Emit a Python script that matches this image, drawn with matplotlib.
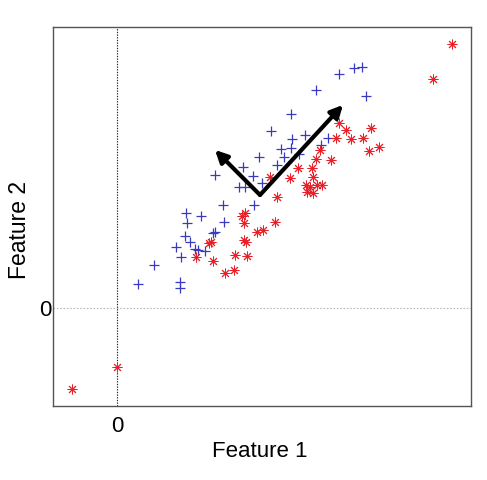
import matplotlib
matplotlib.use("Agg")
import matplotlib.pyplot as plt

plt.rcParams["font.family"] = ["Liberation Sans", "DejaVu Sans"]

# class 1 (blue plus)
blue_x = [2.22, 2.37, 2.45, 1.99, 2.49, 1.74, 1.54, 1.75, 1.88, 2.11, 2.04, 1.64, 1.74, 1.67,
          1.82, 1.42, 1.60, 1.26, 0.98, 1.36, 1.45, 1.22, 1.28, 1.06, 1.37, 0.69, 0.84, 0.70,
          1.07, 0.98, 0.96, 0.68, 0.73, 0.59, 0.64, 0.78, 0.81, 0.88, 0.37, 0.21, 0.63, 0.63]
blue_y = [2.34, 2.40, 2.41, 2.18, 2.12, 1.94, 1.77, 1.69, 1.73, 1.70, 1.63, 1.59, 1.60, 1.51,
          1.54, 1.51, 1.43, 1.41, 1.33, 1.32, 1.25, 1.21, 1.21, 1.03, 1.03, 0.95, 0.92, 0.85,
          0.86, 0.76, 0.75, 0.72, 0.66, 0.61, 0.51, 0.59, 0.58, 0.57, 0.43, 0.24, 0.26, 0.20]

# class 2 (red stars)
red_x = [2.22, 2.29, 2.54, 2.19, 2.34, 2.46, 2.62, 2.52, 2.03, 1.99, 2.14, 1.81, 1.95, 1.53,
         1.73, 1.96, 1.89, 1.93, 2.00, 2.05, 1.90, 1.96, 1.60, 1.28, 1.25, 1.58, 1.27, 1.40,
         1.46, 1.27, 1.29, 0.94, 0.92, 1.18, 1.30, 0.79, 0.96, 1.08, 1.17, 3.16, 3.35, 0.00,
         -0.45]
red_y = [1.85, 1.78, 1.80, 1.70, 1.69, 1.70, 1.61, 1.57, 1.58, 1.49, 1.48, 1.40, 1.40, 1.31,
         1.30, 1.31, 1.23, 1.21, 1.23, 1.23, 1.16, 1.15, 1.11, 0.95, 0.92, 0.86, 0.85, 0.76,
         0.78, 0.68, 0.66, 0.66, 0.65, 0.53, 0.52, 0.51, 0.47, 0.35, 0.38, 2.29, 2.64, -0.59,
         -0.81]

# principal directions
arrow_origin = (1.43, 1.13)
arrow_tips = [(2.26, 2.03), (0.98, 1.58)]

fig = plt.figure(figsize=(4.87, 4.8), dpi=100)
ax = fig.add_axes([0.109, 0.154, 0.858, 0.79])

ax.axvline(0, color="#222222", linestyle=(0, (1.2, 1.2)), linewidth=0.8, zorder=1)
ax.axhline(0, color="#bbbbbb", linestyle=(0, (1.5, 1.5)), linewidth=0.8, zorder=1)

ax.plot(blue_x, blue_y, linestyle="none", marker="+", markersize=7, markeredgewidth=0.9,
        color="#3a3ac0", zorder=2)
ax.plot(red_x, red_y, linestyle="none", marker=(8, 2, 0), markersize=7, markeredgewidth=0.7,
        color="#e8202a", zorder=2)

for tip in arrow_tips:
    ax.annotate("", xy=tip, xytext=arrow_origin,
                arrowprops=dict(arrowstyle="-|>", color="black", lw=3, mutation_scale=18,
                                shrinkA=0, shrinkB=0), zorder=3)

ax.set_xlim(-0.64, 3.54)
ax.set_ylim(-0.98, 2.81)
ax.set_xticks([0])
ax.set_yticks([0])
ax.tick_params(length=0, labelsize=16)
ax.tick_params(axis="x", pad=7)
ax.tick_params(axis="y", pad=1)
for s in ax.spines.values():
    s.set_color("#555555")
    s.set_linewidth(1.0)

ax.set_xlabel("Feature 1", fontsize=16, va="center")
ax.xaxis.set_label_coords(0.495, -0.121)
ax.set_ylabel("Feature 2", fontsize=16.5, va="center")
ax.yaxis.set_label_coords(-0.081, 0.464)

fig.savefig("out.png", dpi=100)
